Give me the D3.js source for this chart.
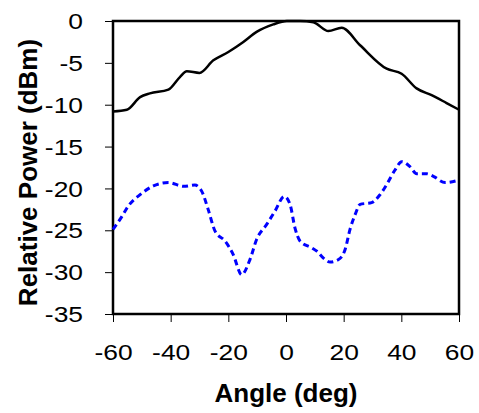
<!DOCTYPE html>
<html>
<head>
<meta charset="utf-8">
<script src="https://cdn.jsdelivr.net/npm/d3@7"></script>
<style>
  body { margin: 0; background: #fff; }
  text { font-family: "Liberation Sans", Arial, sans-serif; }
</style>
</head>
<body>
<script>
// Black (solid) series: angle in deg, relative power in dBm
const solidAngles = [-60, -55.2, -50.6, -47.2, -40.8, -36.8, -34.4, -30, -25.2, -20, -14.8, -10.2, -4.4, 0.3, 4.9, 9.5, 14.7, 19.3, 25.7, 34.9, 40.1, 45.3, 50.5, 55.7, 60];
const solidPower = [-10.8, -10.6, -9.1, -8.65, -8.2, -6.7, -6.0, -6.2, -4.7, -3.7, -2.5, -1.3, -0.4, 0, 0, -0.15, -1.2, -0.8, -2.9, -5.7, -6.3, -8.05, -8.85, -9.8, -10.6];

// Blue (dashed) series
const dashAngles = [-60, -57, -54.7, -50.6, -46, -40.8, -35.5, -31.6, -29.2, -27, -24.6, -21.1, -18.3, -15.4, -12.5, -10.2, -6.7, -3.8, -0.6, 1.4, 3.1, 4.9, 8.9, 10.7, 12.9, 15.3, 18.2, 20.5, 22.2, 24, 25.7, 29.7, 32.6, 34.9, 37.8, 40.1, 43, 45.3, 48.8, 51.1, 55.2, 60];
const dashPower = [-24.9, -23.4, -22.1, -20.75, -19.7, -19.3, -19.75, -19.6, -20.35, -22.5, -25.1, -26.3, -27.9, -30.3, -28.5, -26.1, -24.3, -22.7, -20.95, -21.9, -24.7, -26.3, -27.1, -27.5, -28.3, -28.8, -28.5, -27.3, -24.9, -23.1, -21.9, -21.7, -20.75, -19.55, -17.8, -16.8, -17.4, -18.25, -18.25, -18.55, -19.3, -19.0];

const xTicks = [-60, -40, -20, 0, 20, 40, 60];
const yTicks = [0, -5, -10, -15, -20, -25, -30, -35];

const width = 479;
const height = 413;
const margin = { top: 21, right: 20, bottom: 99, left: 113 };
const innerWidth = width - margin.left - margin.right;
const innerHeight = height - margin.top - margin.bottom;
const stretch = 1.2; // tick labels look wider than plain Arial

const svg = d3.select("body")
  .append("svg")
  .attr("width", width)
  .attr("height", height);

const g = svg.append("g")
  .attr("transform", `translate(${margin.left},${margin.top})`);

const xScale = d3.scaleLinear().domain([-60, 60]).range([0, innerWidth]);
const yScale = d3.scaleLinear().domain([-35, 0]).range([innerHeight, 0]);

// axes
const xAxis = g.append("g")
  .attr("transform", `translate(0,${innerHeight})`)
  .call(d3.axisBottom(xScale).tickValues(xTicks).tickSize(8).tickPadding(21));

const yAxis = g.append("g")
  .call(d3.axisLeft(yScale).tickValues(yTicks).tickSize(8).tickPadding(22));

[xAxis, yAxis].forEach(ax => {
  ax.select(".domain").remove();
  ax.selectAll(".tick line").attr("stroke", "#000").attr("stroke-width", 1);
  ax.selectAll(".tick text")
    .attr("fill", "#000")
    .attr("font-size", 22)
    .style("font-family", "'Liberation Sans', Arial, sans-serif")
    .text(d => String(d))
    .each(function() {
      // widen the glyphs a bit, as in the original
      const w = this.getComputedTextLength();
      d3.select(this)
        .attr("textLength", w * stretch)
        .attr("lengthAdjust", "spacingAndGlyphs");
    });
});
xAxis.selectAll(".tick text").attr("dy", "0.75em");
yAxis.selectAll(".tick text").attr("dy", "0.35em");

// plot frame
g.append("rect")
  .attr("x", 0)
  .attr("y", 0)
  .attr("width", innerWidth)
  .attr("height", innerHeight)
  .attr("fill", "none")
  .attr("stroke", "#000")
  .attr("stroke-width", 2.5);

const line = d3.line()
  .x(d => xScale(d[0]))
  .y(d => yScale(d[1]))
  .curve(d3.curveMonotoneX);

g.append("path")
  .datum(solidAngles.map((a, i) => [a, solidPower[i]]))
  .attr("fill", "none")
  .attr("stroke", "#000")
  .attr("stroke-width", 2.5)
  .attr("d", line);

g.append("path")
  .datum(dashAngles.map((a, i) => [a, dashPower[i]]))
  .attr("fill", "none")
  .attr("stroke", "#0000ff")
  .attr("stroke-width", 3)
  .attr("stroke-dasharray", "6,4")
  .attr("d", line);

// axis titles
svg.append("text")
  .attr("x", margin.left + innerWidth / 2)
  .attr("y", 402)
  .attr("text-anchor", "middle")
  .attr("font-size", 26)
  .attr("font-weight", "bold")
  .text("Angle (deg)");

svg.append("text")
  .attr("transform", `translate(37,${margin.top + innerHeight / 2 + 5}) rotate(-90)`)
  .attr("text-anchor", "middle")
  .attr("font-size", 26)
  .attr("font-weight", "bold")
  .text("Relative Power (dBm)");
</script>
</body>
</html>
